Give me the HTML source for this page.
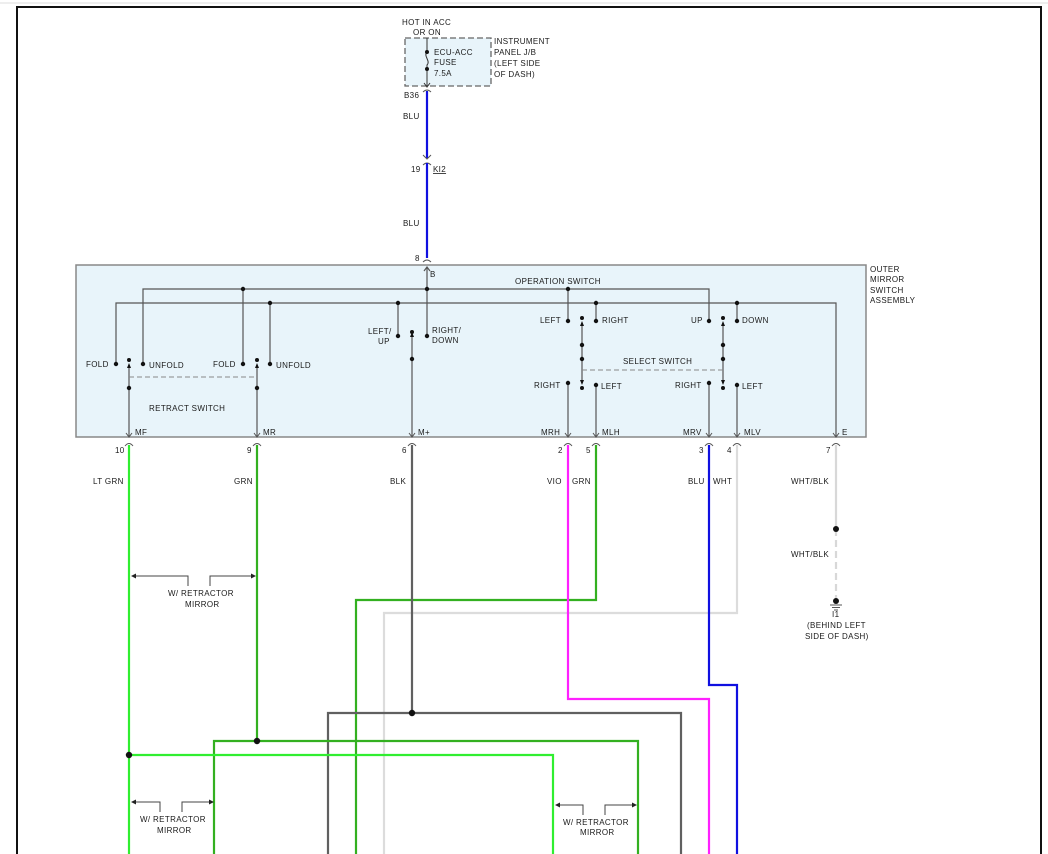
<!DOCTYPE html>
<html><head><meta charset="utf-8"><style>
html,body{margin:0;padding:0;background:#fff;}
svg{display:block;}
text{font-family:"Liberation Sans",sans-serif;font-size:8px;fill:#1a1a1a;letter-spacing:0.35px;}
</style></head><body>
<svg width="1048" height="854" viewBox="0 0 1048 854" xmlns="http://www.w3.org/2000/svg">
<line x1="0" y1="3" x2="1048" y2="3" stroke="#ddd" stroke-width="1"/>
<path d="M17,854 V7 H1041 V854" fill="none" stroke="#111" stroke-width="2"/>

<!-- fuse box -->
<rect x="405" y="38" width="86" height="48" fill="#e8f4fa" stroke="#666" stroke-width="1.3" stroke-dasharray="6,3"/>
<text x="402" y="25">HOT IN ACC</text><text x="413" y="35">OR ON</text>
<text x="494" y="44">INSTRUMENT</text><text x="494" y="55">PANEL J/B</text><text x="494" y="66">(LEFT SIDE</text><text x="494" y="77">OF DASH)</text>
<text x="434" y="55">ECU-ACC</text><text x="434" y="65">FUSE</text><text x="434" y="76">7.5A</text>
<path d="M427,38 V52 M427,69 V86" stroke="#333" stroke-width="1"/>
<path d="M427,52 C423,56 431,61 427,65 V69" fill="none" stroke="#333" stroke-width="1"/>
<circle cx="427" cy="52" r="2" fill="#111"/><circle cx="427" cy="69" r="2" fill="#111"/>
<path d="M424,83 L427,87 L430,83" fill="none" stroke="#333"/>
<path d="M423,92 Q427,88 431,92" fill="none" stroke="#555"/>
<text x="404" y="98">B36</text>
<line x1="427" y1="91" x2="427" y2="158" stroke="#1010e0" stroke-width="2.2"/>
<text x="403" y="119">BLU</text>
<path d="M423,155 L427,159 L431,155" fill="none" stroke="#555"/>
<path d="M423,165 Q427,161 431,165" fill="none" stroke="#555"/>
<text x="411" y="172">19</text><text x="433" y="172" text-decoration="underline">KI2</text>
<line x1="427" y1="163" x2="427" y2="258" stroke="#1010e0" stroke-width="2.2"/>
<text x="403" y="226">BLU</text>
<text x="415" y="261">8</text>
<path d="M423,262 Q427,258 431,262" fill="none" stroke="#555"/>

<!-- main box -->
<rect x="76" y="265" width="790" height="172" fill="#e8f4fa" stroke="#888" stroke-width="1.5"/>
<text x="870" y="272">OUTER</text><text x="870" y="282">MIRROR</text><text x="870" y="293">SWITCH</text><text x="870" y="303">ASSEMBLY</text>
<text x="430" y="277">B</text>
<text x="515" y="284">OPERATION SWITCH</text>
<g stroke="#555" stroke-width="1.2" fill="none">
<path d="M427,268 V336"/><path d="M424,271 L427,267 L430,271"/>
<path d="M143,364 V289 H709 V320"/>
<path d="M116,364 V303 H836 V437"/>
<path d="M243,289 V364"/><path d="M270,303 V364"/><path d="M398,303 V336"/>
<path d="M568,289 V321"/><path d="M596,303 V321"/><path d="M737,303 V321"/>
<path d="M412,332 V437"/>
<path d="M129,366 V437"/><path d="M257,366 V437"/>
<path d="M582,326 V380"/><path d="M723,326 V380"/>
<path d="M568,383 V437"/><path d="M596,385 V437"/><path d="M709,383 V437"/><path d="M737,385 V437"/>
</g>
<g stroke="#888" stroke-width="1" stroke-dasharray="5,3" fill="none">
<path d="M129,377 H257"/><path d="M582,370 H723"/>
</g>
<g fill="#111">
<circle cx="243" cy="289" r="2.2"/><circle cx="427" cy="289" r="2.2"/><circle cx="568" cy="289" r="2.2"/>
<circle cx="270" cy="303" r="2.2"/><circle cx="398" cy="303" r="2.2"/><circle cx="596" cy="303" r="2.2"/><circle cx="737" cy="303" r="2.2"/>
<circle cx="116" cy="364" r="2.2"/><circle cx="143" cy="364" r="2.2"/><circle cx="243" cy="364" r="2.2"/><circle cx="270" cy="364" r="2.2"/>
<circle cx="129" cy="360" r="2"/><circle cx="257" cy="360" r="2"/><circle cx="129" cy="388" r="2.2"/><circle cx="257" cy="388" r="2.2"/>
<circle cx="398" cy="336" r="2.2"/><circle cx="427" cy="336" r="2.2"/><circle cx="412" cy="332" r="2"/><circle cx="412" cy="359" r="2.2"/>
<circle cx="568" cy="321" r="2.2"/><circle cx="596" cy="321" r="2.2"/><circle cx="709" cy="321" r="2.2"/><circle cx="737" cy="321" r="2.2"/>
<circle cx="582" cy="318" r="2"/><circle cx="723" cy="318" r="2"/>
<circle cx="582" cy="345" r="2.2"/><circle cx="582" cy="359" r="2.2"/><circle cx="723" cy="345" r="2.2"/><circle cx="723" cy="359" r="2.2"/>
<circle cx="582" cy="388" r="2"/><circle cx="723" cy="388" r="2"/>
<circle cx="568" cy="383" r="2.2"/><circle cx="596" cy="385" r="2.2"/><circle cx="709" cy="383" r="2.2"/><circle cx="737" cy="385" r="2.2"/>
<path d="M127,368 L129,363 L131,368Z"/><path d="M255,368 L257,363 L259,368Z"/><path d="M410,337 L412,332 L414,337Z"/>
<path d="M580,326 L582,321 L584,326Z"/><path d="M721,326 L723,321 L725,326Z"/>
<path d="M580,380 L582,385 L584,380Z"/><path d="M721,380 L723,385 L725,380Z"/>
</g>
<text x="86" y="367">FOLD</text><text x="149" y="368">UNFOLD</text>
<text x="213" y="367">FOLD</text><text x="276" y="368">UNFOLD</text>
<text x="149" y="411">RETRACT SWITCH</text>
<text x="368" y="334">LEFT/</text><text x="378" y="344">UP</text>
<text x="432" y="333">RIGHT/</text><text x="432" y="343">DOWN</text>
<text x="540" y="323">LEFT</text><text x="602" y="323">RIGHT</text>
<text x="691" y="323">UP</text><text x="742" y="323">DOWN</text>
<text x="623" y="364">SELECT SWITCH</text>
<text x="534" y="388">RIGHT</text><text x="601" y="389">LEFT</text>
<text x="675" y="388">RIGHT</text><text x="742" y="389">LEFT</text>
<!-- pin arrows & labels -->
<g stroke="#555" stroke-width="1" fill="none">
<path d="M126,433 L129,437 L132,433 M125,446 Q129,441 133,446"/>
<path d="M254,433 L257,437 L260,433 M253,446 Q257,441 261,446"/>
<path d="M409,433 L412,437 L415,433 M408,446 Q412,441 416,446"/>
<path d="M565,433 L568,437 L571,433 M564,446 Q568,441 572,446"/>
<path d="M593,433 L596,437 L599,433 M592,446 Q596,441 600,446"/>
<path d="M706,433 L709,437 L712,433 M705,446 Q709,441 713,446"/>
<path d="M734,433 L737,437 L740,433 M733,446 Q737,441 741,446"/>
<path d="M833,433 L836,437 L839,433 M832,446 Q836,441 840,446"/>
</g>
<text x="135" y="435">MF</text><text x="263" y="435">MR</text><text x="418" y="435">M+</text>
<text x="541" y="435">MRH</text><text x="602" y="435">MLH</text><text x="683" y="435">MRV</text><text x="744" y="435">MLV</text><text x="842" y="435">E</text>
<text x="115" y="453">10</text><text x="247" y="453">9</text><text x="402" y="453">6</text><text x="558" y="453">2</text><text x="586" y="453">5</text><text x="699" y="453">3</text><text x="727" y="453">4</text><text x="826" y="453">7</text>
<text x="93" y="484">LT GRN</text><text x="234" y="484">GRN</text><text x="390" y="484">BLK</text>
<text x="547" y="484">VIO</text><text x="572" y="484">GRN</text><text x="688" y="484">BLU</text><text x="713" y="484">WHT</text><text x="791" y="484">WHT/BLK</text>

<!-- lower wires -->
<g fill="none" stroke-width="2.2">
<path d="M384,854 V613 H737 V445" stroke="#dcdcdc"/>
<path d="M356,854 V600 H596 V445" stroke="#33b020"/>
<path d="M328,854 V713 H681 V854" stroke="#606060"/>
<path d="M412,445 V713" stroke="#606060"/>
<path d="M568,445 V699 H709 V854" stroke="#ff20ff"/>
<path d="M709,445 V685 H737 V854" stroke="#1010e0"/>
<path d="M214,854 V741 H638 V854" stroke="#33b020"/>
<path d="M257,445 V741" stroke="#33b020"/>
<path d="M129,445 V854" stroke="#30ee30"/>
<path d="M129,755 H553 V854" stroke="#30ee30"/>
<path d="M836,445 V529" stroke="#d8d8d8"/>
<path d="M836,529 V600" stroke="#d8d8d8" stroke-dasharray="7,4"/>
</g>
<g fill="#111">
<circle cx="412" cy="713" r="3.2"/><circle cx="257" cy="741" r="3.2"/><circle cx="129" cy="755" r="3.2"/>
<circle cx="836" cy="529" r="3"/><circle cx="836" cy="601" r="3"/>
</g>
<path d="M830,605 H842 M832,607.5 H840 M834,610 H838" stroke="#555" stroke-width="1"/>
<text x="791" y="557">WHT/BLK</text>
<text x="832" y="617">I1</text><text x="807" y="628">(BEHIND LEFT</text><text x="805" y="639">SIDE OF DASH)</text>

<!-- brackets -->
<g fill="none" stroke="#444" stroke-width="1">
<path d="M133,576 H188 V586 M210,586 V576 H254"/>
<path d="M133,802 H160 V812 M182,812 V802 H212"/>
<path d="M556,805 H583 V815 M605,815 V805 H635"/>
</g>
<g fill="#222">
<path d="M131,576 L136,573.5 V578.5Z"/><path d="M256,576 L251,573.5 V578.5Z"/>
<path d="M131,802 L136,799.5 V804.5Z"/><path d="M214,802 L209,799.5 V804.5Z"/>
<path d="M555,805 L560,802.5 V807.5Z"/><path d="M637,805 L632,802.5 V807.5Z"/>
</g>
<text x="168" y="596">W/ RETRACTOR</text><text x="185" y="607">MIRROR</text>
<text x="140" y="822">W/ RETRACTOR</text><text x="157" y="833">MIRROR</text>
<text x="563" y="825">W/ RETRACTOR</text><text x="580" y="835">MIRROR</text>
</svg>
</body></html>
